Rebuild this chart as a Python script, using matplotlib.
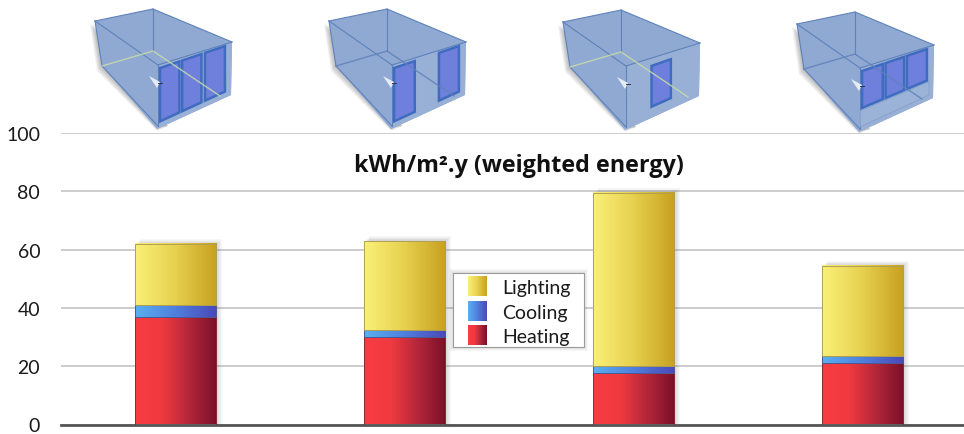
import numpy as np
from matplotlib import pyplot as plt
from matplotlib.colors import LinearSegmentedColormap
from matplotlib.patches import Polygon, Rectangle

# data
heating = [37, 30, 17.5, 21]
cooling = [4, 2.5, 2.5, 2.5]
lighting = [21, 30.5, 59.5, 31]
yticks = [0, 20, 40, 60, 80, 100]
series_names = ['Lighting', 'Cooling', 'Heating']
title = 'kWh/m².y (weighted energy)'

W, H = 964, 435
plt.rcParams['font.family'] = ['Lato', 'DejaVu Sans']

heat_cm = LinearSegmentedColormap.from_list('heat', ['#f83c42', '#ef3a40', '#b3263a', '#7a1029'])
cool_cm = LinearSegmentedColormap.from_list('cool', ['#5ab0f0', '#4f7fdc', '#4a48b8'])
light_cm = LinearSegmentedColormap.from_list('light', ['#faf078', '#e6d04e', '#c8a020'])
grad = np.linspace(0, 1, 128).reshape(1, -1)

fig = plt.figure(figsize=(W / 100, H / 100), dpi=100)
ax = fig.add_axes([61 / W, 1 - 425.5 / H, 1 - 61 / W, (425.5 - 134) / H])


def grad_bar(x, bottom, height, cmap, edge):
    ax.imshow(grad, cmap=cmap, aspect='auto', zorder=3,
              extent=[x - bar_w / 2, x + bar_w / 2, bottom, bottom + height])
    ax.add_patch(Rectangle((x - bar_w / 2, bottom), bar_w, height, fill=False,
                           ec=edge, lw=0.7, zorder=4))


bar_w = 0.354
xs = np.arange(len(heating))
for i, x in enumerate(xs):
    total = heating[i] + cooling[i] + lighting[i]
    # soft shadow on the right of the bar
    for k in range(1, 7):
        ax.add_patch(Rectangle((x - bar_w / 2 + 0.004 * k, 0), bar_w, total + 0.25 * k,
                               fc='#555555', ec='none', alpha=0.045, zorder=2))
    grad_bar(x, 0, heating[i], heat_cm, '#8a2a32')
    grad_bar(x, heating[i], cooling[i], cool_cm, '#4a5a98')
    grad_bar(x, heating[i] + cooling[i], lighting[i], light_cm, '#b0a050')

ax.set_xlim(-0.5, -0.5 + (W - 61) / 229)
ax.set_ylim(0, 100)
ax.set_xticks([])
ax.set_yticks(yticks)
ax.tick_params(axis='y', length=0, pad=15, labelsize=14, labelcolor='#1a1a1a')
ax.grid(axis='y', color='#c4c4c4', lw=1.2, zorder=1)
ax.set_axisbelow(True)
for name in ['top', 'right', 'left']:
    ax.spines[name].set_visible(False)
ax.spines['bottom'].set_color('#555555')
ax.spines['bottom'].set_linewidth(2)

# overlay in pixel coordinates for the room sketches, title and legend
ov = fig.add_axes([0, 0, 1, 1], facecolor='none')
ov.set_xlim(0, W)
ov.set_ylim(H, 0)
ov.axis('off')

ov.text(519, 166, title, ha='center', va='center', fontsize=16.8, fontweight='bold',
        family=['Open Sans', 'DejaVu Sans'], color='#111111')

# legend
for k in range(1, 5):
    ov.add_patch(Rectangle((453 - k, 274 - k), 131 + 2 * k, 74 + 2 * k, fc='#666666',
                           ec='none', alpha=0.05, zorder=5))
ov.add_patch(Rectangle((453, 274), 131, 74, fc='white', ec='#9a9a9a', lw=0.8, zorder=6))
swatches = [light_cm, cool_cm, heat_cm]
for name, cm, top in zip(series_names, swatches, [277, 302, 326]):
    ov.imshow(grad, cmap=cm, aspect='auto', extent=[468, 487, top + 20, top], zorder=7)
    ov.text(502, top + 12, name, ha='left', va='center', fontsize=14, color='#1a1a1a', zorder=7)
ov.set_xlim(0, W)
ov.set_ylim(H, 0)


# room sketches: outline relative to the top-left corner of the front face
def room(dx, dy, windows, floor_col, sill=False):
    pts = lambda arr: [(a + dx, b + dy) for a, b in arr]
    top_l, top_b, top_r, front = (95, 22), (153, 10), (232, 43), (158, 66)
    bot_l, bot_f, bot_r, back_f = (102, 67), (158, 127), (230, 95), (153, 52)
    # shadow along the left side
    for k in range(1, 6):
        ov.add_patch(Polygon(pts([(top_l[0] - k, top_l[1] + 3), (bot_l[0] - k, bot_l[1] + k),
                                  (bot_f[0] - 1, bot_f[1] + k), (bot_f[0] + 10, bot_f[1])]),
                             fc='#444444', ec='none', alpha=0.08, zorder=8))
    ov.add_patch(Polygon(pts([top_l, top_b, top_r, (bot_r[0] + 1, bot_r[1] + 1),
                              (bot_f[0] - 1, bot_f[1] + 3), bot_l]),
                         fc='#8fa9d2', ec='none', zorder=9))
    ov.add_patch(Polygon(pts([front, top_r, (bot_r[0] + 1, bot_r[1] + 1), (bot_f[0] - 1, bot_f[1] + 3)]),
                         fc='#98b0d6', ec='none', zorder=9))
    # frame
    edge = '#5f82ba'
    for p, q in [(top_l, top_b), (top_b, top_r), (top_l, front), (front, top_r), (top_b, back_f),
                 (top_l, bot_l), (front, bot_f), (bot_l, bot_f)]:
        (x0, y0), (x1, y1) = pts([p, q])
        ov.plot([x0, x1], [y0, y1], color=edge, lw=0.8, zorder=10)

    # front face bilinear map for the window panes
    def face(u, v):
        xa = front[0] + u * (top_r[0] - front[0] - 5)
        ya = front[1] + u * (top_r[1] - front[1]) + 2
        yb = bot_f[1] + u * (bot_r[1] - bot_f[1]) - 2
        return xa + dx, ya + v * (yb - ya) + dy

    if sill:
        ov.add_patch(Polygon([face(0, 0.72), face(1, 0.72), face(1, 1), face(0, 1)],
                             fc='#9db4d8', ec='#7f9cc8', lw=0.6, alpha=0.8, zorder=10.5))
    for u0, u1, v0, v1 in windows:
        ov.add_patch(Polygon([face(u0, v0), face(u1, v0), face(u1, v1), face(u0, v1)],
                             fc='#6f80dc', ec='#3f6cc0', lw=1.8, zorder=11))
    # floor line runs through the glass
    ln = pts([bot_l, back_f, (220, 97)])
    ov.plot([p[0] for p in ln], [p[1] for p in ln], color=floor_col, lw=1.0, alpha=0.85, zorder=11.5)
    # small white marker in the middle of the room
    ov.add_patch(Polygon(pts([(149, 77), (160, 83), (157, 89)]), fc='#e6ecf6', ec='none', zorder=12))
    ov.plot([158 + dx, 162 + dx], [84 + dy, 84 + dy], color='#333344', lw=0.7, zorder=12)


room(0, 0, [(0.03, 0.31, 0.03, 0.97), (0.35, 0.63, 0.03, 0.97), (0.68, 0.97, 0.03, 0.97)], '#c8dca8')
room(234, 0, [(0.03, 0.33, 0.03, 0.97), (0.68, 0.97, 0.03, 0.97)], '#5f82ba')
room(468, 1, [(0.37, 0.65, 0.12, 0.88)], '#c8dca8')
room(702, 3, [(0.03, 0.33, 0.03, 0.68), (0.37, 0.64, 0.03, 0.68), (0.68, 0.97, 0.03, 0.68)],
     '#5f82ba', sill=True)

fig.savefig('out.png', dpi=100)
